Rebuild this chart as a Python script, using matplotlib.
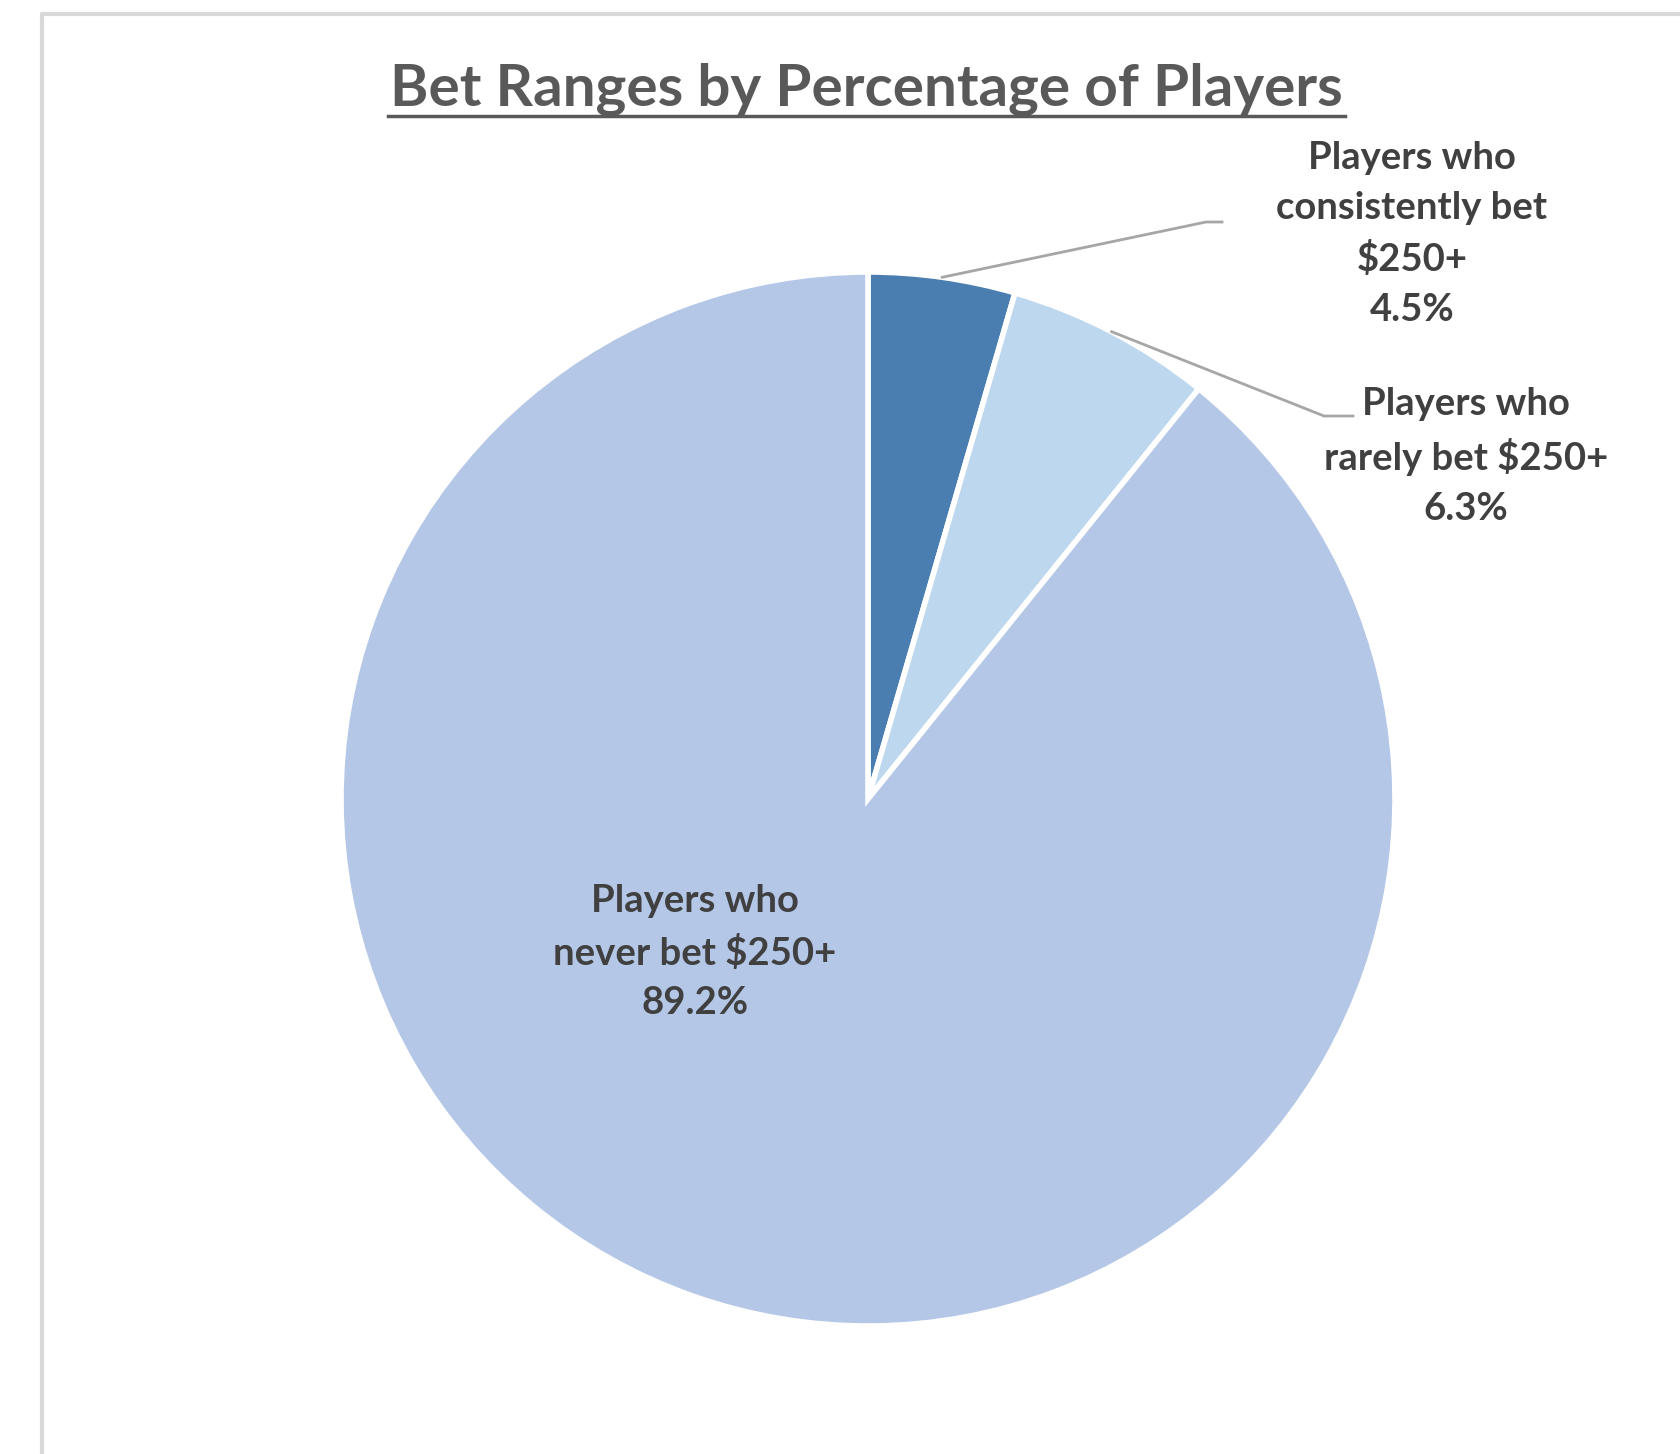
import numpy as np
import matplotlib.pyplot as plt

labels = ["Players who\nconsistently bet\n$250+", "Players who\nrarely bet $250+", "Players who\nnever bet $250+"]
shares = [4.5, 6.3, 89.2]
colors = ["#4a7eb0", "#bdd7ee", "#b4c7e7"]

W, H = 1681, 1454
fig = plt.figure(figsize=(W / 100, H / 100), dpi=100)
ax = fig.add_axes([0, 0, 1, 1])

# chart frame (light grey border, cut off at right and bottom)
ax.plot([42, 42, W + 10], [-10, H - 14, H - 14], color="#d9d9d9", lw=3, solid_capstyle="butt")

cx, cy, r = 868, H - 799, 527
wedges, _ = ax.pie(shares, colors=colors, startangle=90, counterclock=False,
                   center=(cx, cy), radius=r, frame=True,
                   wedgeprops=dict(edgecolor="white", linewidth=4))
ax.set_xlim(0, W)
ax.set_ylim(0, H)
ax.set_aspect("equal")
ax.axis("off")

txt = dict(family=["Lato", "DejaVu Sans"], fontweight="bold", color="#404040",
           ha="center", va="center", fontsize=27.5, linespacing=1.55)

ax.text(866, H - 89, "Bet Ranges by Percentage of Players", family=["Lato", "DejaVu Sans"],
        fontweight="bold", color="#595959", fontsize=42, ha="center", va="center")
ax.plot([388, 1345], [H - 116, H - 116], color="#595959", lw=2.5)

# label positions and leader elbows
label_pos = [(1412, H - 234), (1466, H - 456), (695, H - 952)]
elbows = [[(1206, H - 222), (1222, H - 222)], [(1324, H - 416), (1353, H - 416)], None]

for w, lab, val, pos, elb in zip(wedges, labels, shares, label_pos, elbows):
    ax.text(pos[0], pos[1], f"{lab}\n{val}%", **txt)
    if elb is not None:
        mid = np.deg2rad((w.theta1 + w.theta2) / 2)
        sx, sy = cx + r * np.cos(mid), cy + r * np.sin(mid)
        xs = [sx] + [p[0] for p in elb]
        ys = [sy] + [p[1] for p in elb]
        ax.plot(xs, ys, color="#a6a6a6", lw=2)

fig.savefig("out.png", dpi=100, facecolor="white")
